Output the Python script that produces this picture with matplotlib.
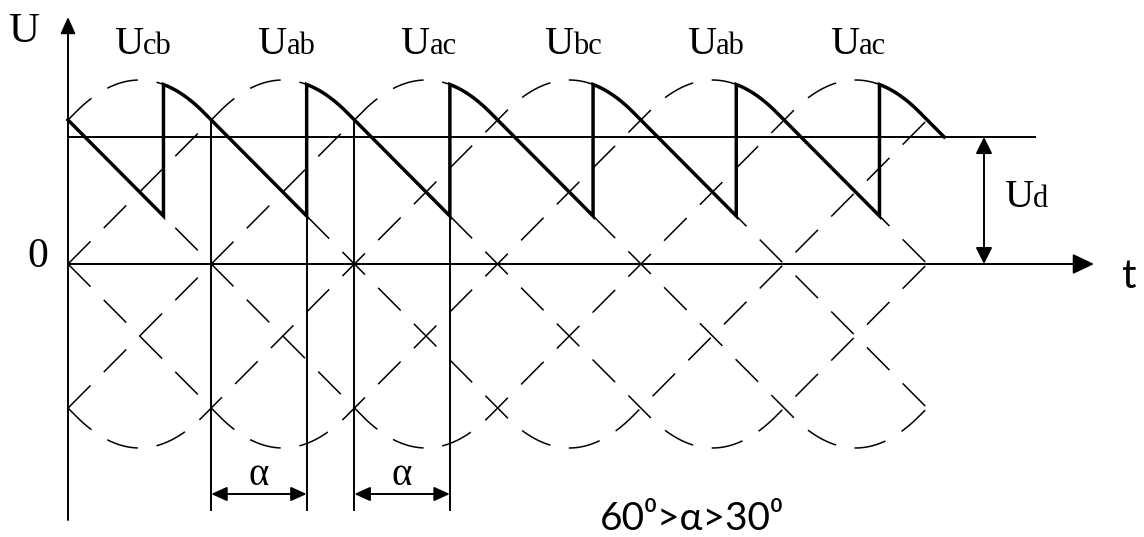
import numpy as np
import matplotlib
matplotlib.use("Agg")
import matplotlib.pyplot as plt
from matplotlib.patches import FancyArrowPatch

# ---------------- data ----------------
peak_angles = [30, 90, 150, 210, 270, 330]          # deg, positive peaks of the six line voltages
arc_subscripts = ["cb", "ab", "ac", "bc", "ab", "ac"]  # labels of the arcs
natural_points = [0, 60, 120, 180, 240, 300]         # natural commutation points (deg)
alpha_deg = 40                                       # firing delay
alpha_marks = [60, 120]                              # natural points where alpha is dimensioned
ud_level = 0.69                                      # mean rectified voltage (peak = 1)
crossing_level = 0.783                               # value where neighbouring arcs cross
curve_span = (0, 360)                                # drawn range of the dashed curves
bound_level = -1.337                                 # lower end of vertical marker lines
alpha_arrow_level = -1.25
title_text = "60\u2070>\u03b1>30\u2070"

# ---------------- waveform shape (peak 1, flattened sine as drawn) ----------------
S = crossing_level / 60.0
D0 = 2 * (90 - 1 / S)
K = S / (2 * D0)


def shape(d):
    d = (np.asarray(d, float) + 180) % 360 - 180
    a = np.abs(d)
    sign = np.where(a > 90, -1.0, 1.0)
    a = np.where(a > 90, 180 - a, a)
    v = np.where(a < D0, 1 - K * a ** 2, (90 - a) * S)
    return sign * v


# ---------------- layout helpers (pixel -> data) ----------------
W, H = 1144, 537
PX_PER_DEG = 143.2 / 60
X0, Y0, PX_PER_UNIT = 68, 264, 184


def dx(px):
    return (px - X0) / PX_PER_DEG


def dy(py):
    return (Y0 - py) / PX_PER_UNIT


plt.rcParams["lines.scale_dashes"] = False
fig = plt.figure(figsize=(W / 100, H / 100), dpi=100)
ax = fig.add_axes([0, 0, 1, 1])
ax.set_xlim(dx(0), dx(W))
ax.set_ylim(dy(H), dy(0))
ax.axis("off")

THIN = 1.4
DASH = 1.1
THICK = 2.5

# dashed curves
theta = np.linspace(curve_span[0], curve_span[1], 3000)
for p in peak_angles:
    ax.plot(theta, shape(theta - p), color="black", lw=DASH,
            linestyle=(0, (23, 13.5)), solid_capstyle="butt", dash_capstyle="butt")

# rectified (thick) waveform
firing = [n + alpha_deg for n in natural_points]
xs, ys = [], []
t = np.linspace(curve_span[0], firing[0], 200)
xs += list(t)
ys += list(shape(t - (peak_angles[-1] - 360)))
for i, f in enumerate(firing):
    p = peak_angles[i]
    end = firing[i + 1] if i + 1 < len(firing) else p + (90 - ud_level / S)
    t = np.linspace(f, end, 400)
    xs += list(t)
    ys += list(shape(t - p))
ax.plot(xs, ys, color="black", lw=THICK, solid_joinstyle="miter", zorder=4)

# Ud level line
ax.plot([0, dx(1035)], [ud_level, ud_level], color="black", lw=THIN, zorder=3)

# vertical markers for alpha
for n in alpha_marks:
    ax.plot([n, n], [bound_level, shape(n - (n + 30 - 60))], color="black", lw=THIN, zorder=3)
    f = n + alpha_deg
    ax.plot([f, f], [bound_level, shape(f - (n - 30))], color="black", lw=THIN, zorder=3)
    arr = FancyArrowPatch((n, alpha_arrow_level), (f, alpha_arrow_level),
                          arrowstyle="<|-|>,head_length=0.95,head_width=0.43",
                          mutation_scale=10, lw=THIN, color="black",
                          shrinkA=0, shrinkB=0, zorder=5)
    ax.add_patch(arr)
    ax.text(n + alpha_deg / 2, dy(485), "\u03b1", family="Liberation Serif",
            fontsize=28, ha="center", va="baseline")

# axes
ax.add_patch(FancyArrowPatch((0, dy(520)), (0, dy(17)),
                             arrowstyle="-|>,head_length=1.0,head_width=0.45",
                             mutation_scale=10, lw=THIN, color="black",
                             shrinkA=0, shrinkB=0, zorder=5))
ax.add_patch(FancyArrowPatch((0, 0), (dx(1094), 0),
                             arrowstyle="-|>,head_length=1.3,head_width=0.62",
                             mutation_scale=10, lw=THIN, color="black",
                             shrinkA=0, shrinkB=0, zorder=5))
# Ud dimension arrow
ax.add_patch(FancyArrowPatch((dx(984), 0), (dx(984), ud_level),
                             arrowstyle="<|-|>,head_length=1.0,head_width=0.5",
                             mutation_scale=10, lw=THIN, color="black",
                             shrinkA=0, shrinkB=0, zorder=5))

# texts
serif = "Liberation Serif"
ax.text(dx(24), dy(42), "U", family=serif, fontsize=31, ha="center", va="baseline")
ax.text(dx(37.5), dy(267), "0", family=serif, fontsize=30, ha="center", va="baseline")
for p, sub in zip(peak_angles, arc_subscripts):
    ax.text(p + 1.5, dy(54), "U", family=serif, fontsize=29, ha="right", va="baseline")
    ax.text(p + 1.5, dy(54), sub, family=serif, fontsize=22, ha="left", va="baseline")
ax.text(dx(1033), dy(207), "U", family=serif, fontsize=29, ha="right", va="baseline")
ax.text(dx(1033), dy(207), "d", family=serif, fontsize=22, ha="left", va="baseline")
ax.text(dx(1128), dy(288), "t", family=["Lato", "DejaVu Sans"], fontsize=29,
        ha="center", va="baseline")
ax.text(dx(692), dy(530), title_text, family=["Lato", "DejaVu Sans"], fontsize=28,
        ha="center", va="baseline")

fig.savefig("out.png", dpi=100)
